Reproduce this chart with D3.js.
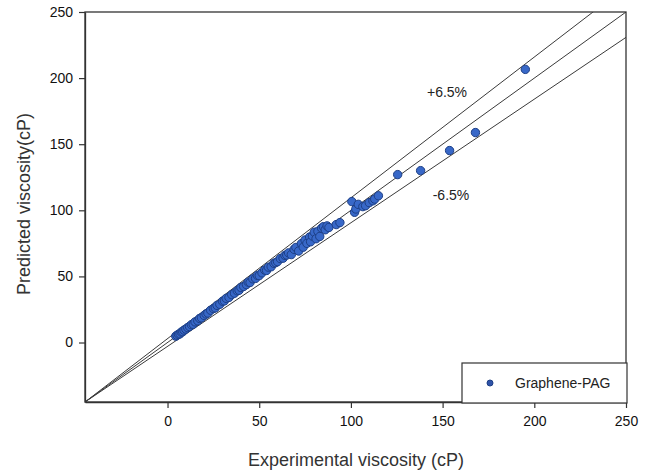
<!DOCTYPE html>
<html>
<head>
<meta charset="utf-8">
<script src="https://cdn.jsdelivr.net/npm/d3@7"></script>
<style>
  body { margin: 0; background: #fff; }
  text { font-family: Arial, "Liberation Sans", sans-serif; }
</style>
</head>
<body>
<svg id="chart" width="650" height="472"></svg>
<script>
// experimental vs predicted viscosity (cP)
var experimental = [
  4.5, 5.2, 6, 6.8, 7.5, 8.3, 9, 10, 11, 12, 13, 14, 15, 16.5, 17.5, 18.5, 20, 21, 22, 23.5,
  25, 26, 27, 28.5, 30, 31, 32, 33.5, 35,
  36.5, 38, 39, 40, 41.5, 43, 44, 45, 46.5, 48, 49, 50, 51.5, 53, 54, 55, 56.5, 58, 59, 60,
  61.5, 63, 64, 65,
  66, 67.5, 69, 70, 71.5, 73, 74, 75, 76, 77.5, 78, 79, 80, 81, 82, 83, 84, 85, 86, 87, 88,
  92, 94, 100.5, 102, 102.7, 104, 106.5, 108, 110, 112, 113, 115,
  125.5, 138, 153.8, 167.9, 195.1
];
var predicted = [
  4.8, 5.5, 6.2, 6.6, 7.9, 8.2, 9.4, 10.2, 11.3, 12.1, 13.5, 13.8, 15.6, 16.4, 18.2, 18.7, 20.5, 21.6, 22.3, 24.4,
  25.7, 26.2, 28.1, 28.9, 31.2, 31.5, 33.4, 34.1, 36.2,
  37.3, 39.1, 39.5, 41.6, 42.4, 43.8, 45.7, 45.4, 48.2, 48.5, 50.8, 50.6, 52.7, 54.8, 54.5, 57, 57.3, 59.9, 60.4, 61.2,
  63.5, 63.8, 65.9, 66.2,
  67.8, 66.5, 70.5, 71.9, 69.2, 74.8, 72.1, 77.5, 75, 79.8, 76.2, 80.5, 83.4, 78.5, 84.1, 80.2, 86.5, 87.6, 85.3, 88.2, 87,
  89.2, 90.7, 106.6, 98.5, 101, 104.5, 102.8, 103.5, 105.8, 107.2, 108.5, 111,
  127, 130, 145.2, 158.8, 206.6
];
var tickValues = [0, 50, 100, 150, 200, 250];
var axisMin = -45, axisMax = 250;
var bandFactors = [1, 1.065, 0.935];
var bandLabels = ["+6.5%", "-6.5%"];
var seriesName = "Graphene-PAG";

var svg = d3.select("#chart");

var x = d3.scaleLinear().domain([axisMin, axisMax]).range([85, 626]);
var y = d3.scaleLinear().domain([axisMin, axisMax]).range([402, 12]);

svg.append("clipPath").attr("id", "plot-clip")
    .append("rect")
    .attr("x", x(axisMin)).attr("y", y(axisMax))
    .attr("width", x(axisMax) - x(axisMin)).attr("height", y(axisMin) - y(axisMax));

// reference lines, fanning out from the lower-left corner of the plot
var line = d3.line().x(d => x(d[0])).y(d => y(d[1]));
var span = axisMax - axisMin;
svg.append("g").attr("clip-path", "url(#plot-clip)")
    .selectAll("path")
    .data(bandFactors)
    .join("path")
    .attr("d", k => line([[axisMin, axisMin], [axisMax, axisMin + span * k]]))
    .attr("fill", "none")
    .attr("stroke", "#3a3a3a")
    .attr("stroke-width", 1);

// points
var pts = d3.zip(experimental, predicted);
svg.append("g")
    .selectAll("circle")
    .data(pts)
    .join("circle")
    .attr("cx", d => x(d[0]))
    .attr("cy", d => y(d[1]))
    .attr("r", 4.2)
    .attr("fill", "#3868c8")
    .attr("stroke", "#1d3f86")
    .attr("stroke-width", 1);

// frame
svg.append("rect")
    .attr("x", x(axisMin)).attr("y", y(axisMax))
    .attr("width", x(axisMax) - x(axisMin)).attr("height", y(axisMin) - y(axisMax))
    .attr("fill", "none").attr("stroke", "#333").attr("stroke-width", 1.3);

var xAxis = svg.append("g")
    .attr("transform", "translate(0," + y(axisMin) + ")")
    .call(d3.axisBottom(x).tickValues(tickValues).tickSize(6).tickSizeOuter(0).tickPadding(8));
var yAxis = svg.append("g")
    .attr("transform", "translate(" + x(axisMin) + ",0)")
    .call(d3.axisLeft(y).tickValues(tickValues).tickSize(6).tickSizeOuter(0).tickPadding(6));

[xAxis, yAxis].forEach(function(g) {
    g.select(".domain").attr("stroke", "#333").attr("stroke-width", 1.3);
    g.selectAll(".tick line").attr("stroke", "#333").attr("stroke-width", 1.2);
    g.selectAll(".tick text")
        .attr("fill", "#111")
        .style("font-size", "14px")
        .style("font-family", "Arial, 'Liberation Sans', sans-serif");
});

// band labels
svg.append("text")
    .attr("x", 447).attr("y", 97)
    .attr("text-anchor", "middle")
    .style("font-size", "14px").attr("fill", "#222")
    .text(bandLabels[0]);
svg.append("text")
    .attr("x", 451).attr("y", 200)
    .attr("text-anchor", "middle")
    .style("font-size", "14px").attr("fill", "#222")
    .text(bandLabels[1]);

// axis titles
svg.append("text")
    .attr("x", 356).attr("y", 466)
    .attr("text-anchor", "middle")
    .style("font-size", "18px").attr("fill", "#333")
    .text("Experimental viscosity (cP)");
svg.append("text")
    .attr("transform", "translate(30,204) rotate(-90)")
    .attr("text-anchor", "middle")
    .style("font-size", "18px").attr("fill", "#333")
    .text("Predicted viscosity(cP)");

// legend
var legend = svg.append("g");
legend.append("rect")
    .attr("x", 462).attr("y", 363)
    .attr("width", 165).attr("height", 40)
    .attr("fill", "#fff").attr("stroke", "#333").attr("stroke-width", 1.2);
legend.append("circle")
    .attr("cx", 490).attr("cy", 383).attr("r", 3)
    .attr("fill", "#2f53a8").attr("stroke", "#1d3f86");
legend.append("text")
    .attr("x", 515).attr("y", 388)
    .style("font-size", "14px").attr("fill", "#222")
    .text(seriesName);
</script>
</body>
</html>
